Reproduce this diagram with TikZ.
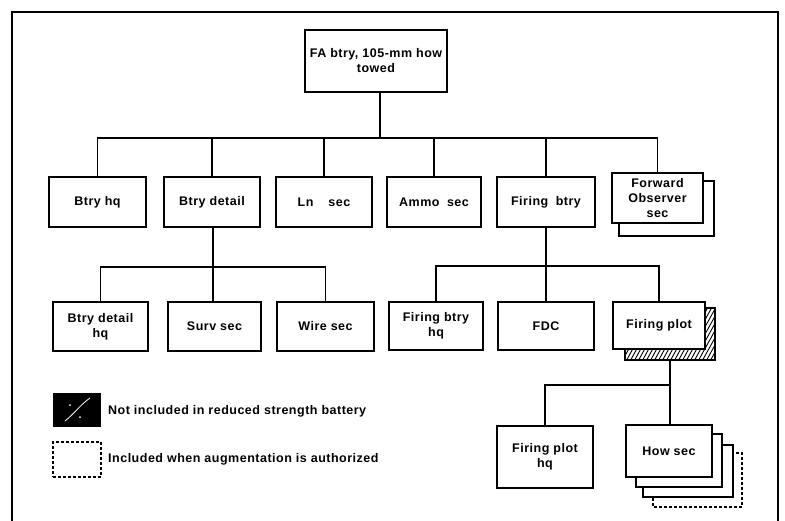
\documentclass[tikz,border=0pt]{standalone}
\usepackage{fontspec}
\setmainfont{Liberation Sans}[LetterSpace=4]
\begin{document}
\begin{tikzpicture}[x=1pt,y=-1pt,
  box/.style={draw,fill=white,line width=1.6pt,rectangle,inner sep=0pt,align=center,font=\bfseries\fontsize{12.5}{15}\selectfont},
  conn/.style={line width=1.6pt},
  shad/.style={draw,fill=white,line width=1.6pt},
  legtext/.style={anchor=west,inner sep=0pt,font=\bfseries\fontsize{12.5}{15}\selectfont}]
\useasboundingbox (0,0) rectangle (785,520);
% frame
\draw[line width=1.6pt] (12,530) -- (12,12) -- (778,12) -- (778,530);

% shadows
\draw[shad] (619,181) rectangle (714,236);
\begin{scope}
  \clip (625,308) rectangle (715,360);
  \fill[white] (625,308) rectangle (715,360);
  \foreach \i in {0,4,...,160} {\draw[line width=0.9pt] (600+\i,372) -- (640+\i,300);}
\end{scope}
\draw[line width=1.8pt] (625,308) rectangle (715,360);
\draw[shad,densely dashed] (653,453) rectangle (742,507);
\draw[shad] (643,445) rectangle (733,497);
\draw[shad] (636,434) rectangle (722,487);

% nodes
\node[box,minimum width=142pt,minimum height=62pt] (top) at (376,61) {FA btry, 105-mm how\\towed};
\node[box,minimum width=97pt,minimum height=50pt] (bhq) at (97.5,202) {Btry hq};
\node[box,minimum width=96pt,minimum height=50pt] (bdet) at (212,202) {Btry detail};
\node[box,minimum width=96pt,minimum height=50pt] (ln) at (324,202) {Ln\hspace{1.2em}sec};
\node[box,minimum width=94pt,minimum height=50pt] (ammo) at (434,202) {Ammo\hspace{0.6em}sec};
\node[box,minimum width=98pt,minimum height=50pt] (fbtry) at (546,202) {Firing\hspace{0.6em}btry};
\node[box,minimum width=91pt,minimum height=50pt] (fo) at (657.5,198) {Forward\\Observer\\sec};
\node[box,minimum width=95pt,minimum height=49pt] (bdhq) at (100.5,326.5) {Btry detail\\hq};
\node[box,minimum width=93pt,minimum height=49pt] (surv) at (214.5,326.5) {Surv sec};
\node[box,minimum width=97pt,minimum height=49pt] (wire) at (325.5,326.5) {Wire sec};
\node[box,minimum width=94pt,minimum height=48pt] (fbhq) at (436,326) {Firing btry\\hq};
\node[box,minimum width=96pt,minimum height=48pt] (fdc) at (546,326) {FDC};
\node[box,minimum width=92pt,minimum height=47pt] (fplot) at (659,325.5) {Firing plot};
\node[box,minimum width=96pt,minimum height=62pt] (fphq) at (545,457) {Firing plot\\hq};
\node[box,minimum width=86pt,minimum height=52pt] (how) at (669,451) {How sec};

% connectors
\coordinate (j1) at (380,138);
\coordinate (j2) at (213,267);
\coordinate (j3) at (546,266);
\coordinate (j4) at (670,385);
\coordinate (fps) at (670,360);
\draw[conn] (top.south -| j1) -- (j1);
\draw[conn] (bhq.north) |- (j1) -| (fo.north);
\draw[conn] (bdet.north) -- (bdet.north |- j1);
\draw[conn] (ln.north) -- (ln.north |- j1);
\draw[conn] (ammo.north) -- (ammo.north |- j1);
\draw[conn] (fbtry.north) -- (fbtry.north |- j1);

\draw[conn] (bdet.south -| j2) -- (j2);
\draw[conn] (bdhq.north) |- (j2) -| (wire.north);
\draw[conn] (surv.north -| j2) -- (j2);

\draw[conn] (fbtry.south -| j3) -- (j3);
\draw[conn] (fbhq.north) |- (j3) -| (fplot.north);
\draw[conn] (fdc.north -| j3) -- (j3);

\draw[conn] (fps) -- (j4);
\draw[conn] (fphq.north) |- (j4) -- (how.north -| j4);

% legend
\node[fill=black,minimum width=48pt,minimum height=34pt,inner sep=0pt] (lk1) at (77,410) {};
\draw[white,line width=0.8pt] (65,421) .. controls (74,414) and (80,405) .. (90,398);
\fill[white] (70,405) circle (1pt) (80,417) circle (1pt);
\node[draw,densely dashed,line width=1.6pt,minimum width=48pt,minimum height=35pt,inner sep=0pt] (lk2) at (77,459.5) {};
\node[legtext] (lt1) at (108,411) {Not included in reduced strength battery};
\node[legtext] (lt2) at (108,459) {Included when augmentation is authorized};
\end{tikzpicture}
\end{document}
